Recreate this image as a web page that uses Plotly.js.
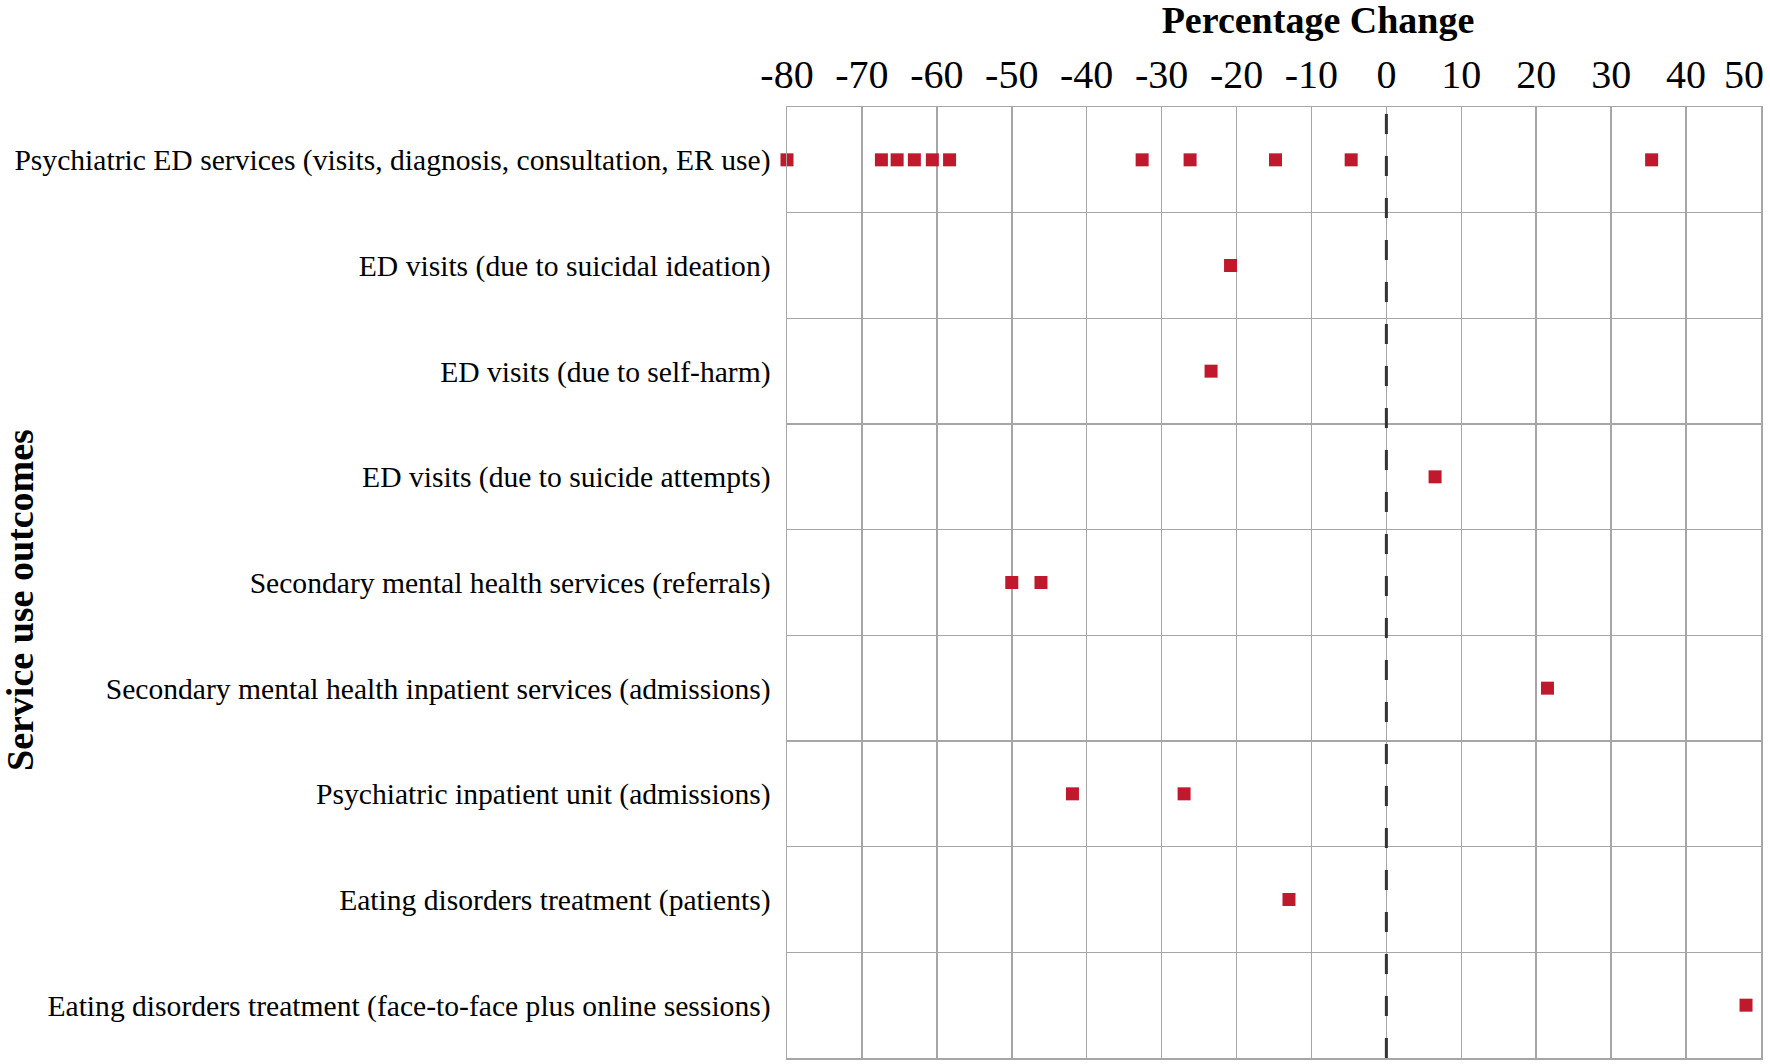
<!DOCTYPE html>
<html>
<head>
<meta charset="utf-8">
<script src="https://cdn.plot.ly/plotly-3.0.1.min.js"></script>
<style>html,body{margin:0;padding:0;background:#fff;}#chart{width:1770px;height:1064px;}</style>
</head>
<body>
<div id="chart"></div>
<script>
const categories = [
  "Psychiatric ED services (visits, diagnosis, consultation, ER use)",
  "ED visits (due to suicidal ideation)",
  "ED visits (due to self-harm)",
  "ED visits (due to suicide attempts)",
  "Secondary mental health services (referrals)",
  "Secondary mental health inpatient services (admissions)",
  "Psychiatric inpatient unit (admissions)",
  "Eating disorders treatment (patients)",
  "Eating disorders treatment (face-to-face plus online sessions)"
];
const row0 = [-80, -67.4, -65.3, -63.0, -60.6, -58.3, -32.6, -26.2, -14.8, -4.7, 35.4];
const row1 = [-20.8];
const row2 = [-23.4];
const row3 = [6.5];
const row4 = [-50.0, -46.1];
const row5 = [21.5];
const row6 = [-41.9, -27.0];
const row7 = [-13.0];
const row8 = [48.0];
const rows = [row0, row1, row2, row3, row4, row5, row6, row7, row8];
const xTicks = [-80, -70, -60, -50, -40, -30, -20, -10, 0, 10, 20, 30, 40, 50];
const xTickText = ["-80", "-70", "-60", "-50", "-40", "-30", "-20", "-10", "0", "10", "20", "30", "40", "50"];

const xs = [], ys = [];
rows.forEach((r, i) => r.forEach(v => { xs.push(v); ys.push(i); }));

const serif = "Liberation Serif, Times New Roman, serif";
const grid = "#a6a6a6";
const last = xTicks.length - 1;

const trace = {
  type: "scatter", mode: "markers", x: xs, y: ys, cliponaxis: false,
  marker: { symbol: "square", size: 13, color: "#c0192d", line: { width: 0 } },
  hoverinfo: "x"
};

const layout = {
  width: 1770, height: 1064,
  margin: { l: 787, r: 9, t: 107, b: 6 },
  paper_bgcolor: "#fff", plot_bgcolor: "#fff",
  showlegend: false,
  title: {
    text: "<b>Percentage Change</b>",
    font: { family: serif, size: 38, color: "#000" },
    x: 1318 / 1770, xanchor: "center", xref: "container",
    y: 1 - 20 / 1064, yanchor: "middle", yref: "container"
  },
  xaxis: {
    side: "top", range: [-80, 50], tickvals: xTicks,
    ticktext: xTickText.map((t, i) => i === last ? "" : t), ticks: "",
    tickfont: { family: serif, size: 40, color: "#000" },
    showgrid: true, gridcolor: grid, gridwidth: 1.5,
    zeroline: false, showline: true, linecolor: grid, linewidth: 1.5, mirror: true,
    ticklabelstandoff: 2, fixedrange: true
  },
  yaxis: {
    range: [8.5, -0.5], tickvals: categories.map((c, i) => i), ticktext: categories,
    ticks: "", showgrid: false, zeroline: false,
    tickfont: { family: serif, size: 29.6, color: "#000" },
    showline: true, linecolor: grid, linewidth: 1.5, mirror: true,
    minor: { tick0: 0.5, dtick: 1, showgrid: true, gridcolor: grid, gridwidth: 1.5, ticks: "" },
    ticklabelstandoff: 9, fixedrange: true
  },
  shapes: [{
    type: "line", xref: "x", yref: "paper", x0: 0, x1: 0, y0: 0, y1: 1,
    line: { color: "#333", width: 3, dash: "20px,22px" }, layer: "above"
  }],
  annotations: [{
    text: "<b>Service use outcomes</b>", textangle: -90,
    xref: "paper", yref: "paper",
    x: (20 - 787) / 974, y: 1 - (600 - 107) / 951,
    xanchor: "center", yanchor: "middle", showarrow: false,
    font: { family: serif, size: 38, color: "#000" }
  }, {
    text: xTickText[last], xref: "x", yref: "paper",
    x: xTicks[last], y: 1, xanchor: "right", yanchor: "bottom",
    xshift: 5, yshift: 8, showarrow: false,
    font: { family: serif, size: 40, color: "#000" }
  }]
};

Plotly.newPlot("chart", [trace], layout, { displayModeBar: false, staticPlot: true });
</script>
</body>
</html>
